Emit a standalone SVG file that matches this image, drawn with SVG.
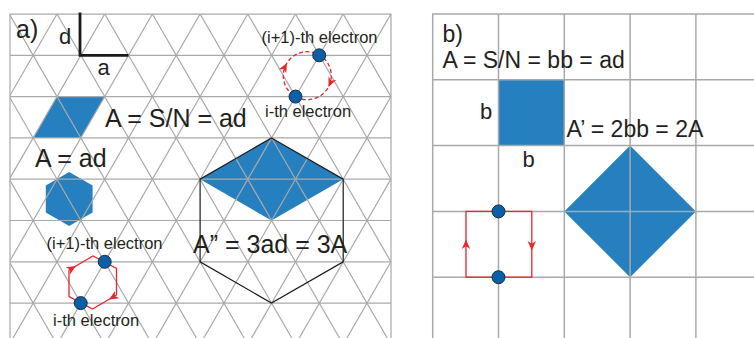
<svg xmlns="http://www.w3.org/2000/svg" width="754" height="338" viewBox="0 0 754 338">
<defs>
  <style>
    .grid{stroke:#a9a9a9;stroke-width:1.2;fill:none}
    .grid2{stroke:#a9a9a9;stroke-width:1.5;fill:none}
    .blue{fill:#2680bf;stroke:none}
    .txt{font-family:"Liberation Sans",Arial,sans-serif;fill:#231f20}
    .big{font-size:25px}
    .mid{font-size:23px}
    .sm{font-size:16.5px}
    .loop{fill:none;stroke:#e8242c;stroke-width:1.3}
    .dot{fill:#0b5fa5;stroke:#1b2f45;stroke-width:1}
  </style>
  <clipPath id="clipA"><rect x="10" y="14" width="381" height="330"/></clipPath>
  <path id="ah" d="M0,0 L-9.5,-4.2 L-6.8,0 L-9.5,4.2 Z" fill="#e8242c"/>
</defs>
<rect width="754" height="338" fill="#ffffff"/>

<!-- Panel a -->
<g id="panel-a">
  <g id="shapes-a">
    <polygon class="blue" points="57,96.6 104.7,96.6 80.7,137.9 33,137.9"/>
    <polygon class="blue" points="69.2,172 92.6,185.5 92.6,212.5 69.2,226 45.8,212.5 45.8,185.5"/>
    <polygon class="blue" points="271.5,137.9 343.2,179.2 271.5,220.5 200.1,179.2"/>
  </g>
  <g id="lattice-a" class="grid" clip-path="url(#clipA)">
    <path d="M10,14H391M10,55.3H391M10,96.6H391M10,137.9H391M10,179.2H391M10,220.5H391M10,261.8H391M10,303.1H391"/>
    <path d="M57,14l-194,336M104.7,14l-194,336M152.4,14l-194,336M200.1,14l-194,336M247.8,14l-194,336M295.5,14l-194,336M343.2,14l-194,336M390.9,14l-194,336M438.6,14l-194,336M486.3,14l-194,336M534,14l-194,336"/>
    <path d="M-133.8,14l194,336M-86.1,14l194,336M-38.4,14l194,336M9.3,14l194,336M57,14l194,336M104.7,14l194,336M152.4,14l194,336M200.1,14l194,336M247.8,14l194,336M295.5,14l194,336M343.2,14l194,336"/>
  </g>
  <path id="border-a" class="grid" d="M10,344V14H391V344"/>
  <polygon id="hexagon-big" points="271.5,137.9 343.2,179.2 343.2,261.8 271.5,303.1 200.1,261.8 200.1,179.2" fill="none" stroke="#1a1a1a" stroke-width="1.2"/>
  <path id="axes-da" d="M80,12.5V55.3H128.5" fill="none" stroke="#1a1a1a" stroke-width="2.8"/>
  <text class="txt big" x="16" y="38">a)</text>
  <text class="txt" font-size="22" x="59" y="44">d</text>
  <text class="txt" font-size="22" x="97.5" y="75">a</text>
  <text class="txt big" x="105" y="127">A = S/N = ad</text>
  <text class="txt big" x="35" y="166.5">A = ad</text>
  <text class="txt big" x="193" y="253.3">A” = 3ad = 3A</text>
  <text class="txt sm" x="261.5" y="43">(i+1)-th electron</text>
  <text class="txt sm" x="265" y="117">i-th electron</text>
  <text class="txt sm" x="46.5" y="249">(i+1)-th electron</text>
  <text class="txt sm" x="53" y="326">i-th electron</text>
</g>

<!-- Panel b -->
<g id="panel-b">
  <rect class="blue" x="498.5" y="79.8" width="65.8" height="65.8"/>
  <polygon class="blue" points="630.1,145.6 695.9,211.4 630.1,277.2 564.3,211.4"/>
  <g id="grid-b" class="grid2">
    <path d="M432.7,345V14H760"/>
    <path d="M498.5,14V345M564.3,14V345M630.1,14V345M695.9,14V345"/>
    <path d="M432.7,79.8H760M432.7,145.6H760M432.7,211.4H760M432.7,277.2H760"/>
  </g>
  <text class="txt mid" x="442.5" y="41.5">b)</text>
  <text class="txt mid" x="442.5" y="68.3">A = S/N = bb = ad</text>
  <text class="txt" font-size="22" x="480" y="119">b</text>
  <text class="txt" font-size="22" x="522.5" y="167">b</text>
  <text class="txt mid" x="566.5" y="136.7">A’ = 2bb = 2A</text>
</g>

<!-- Loops (connectors) -->
<g id="connectors">
  <circle class="loop" cx="307.3" cy="75.7" r="24" stroke-dasharray="4 2.5"/>
  <use href="#ah" transform="translate(286.9,63) rotate(-62.5)"/>
  <use href="#ah" transform="translate(328.5,87) rotate(113.9)"/>
  <polygon class="loop" points="69,270 93,256 116.5,268.5 116.5,295 92.5,309 69,296.5"/>
  <use href="#ah" transform="translate(76,266) rotate(-30.3)"/>
  <use href="#ah" transform="translate(109,299.4) rotate(149.7)"/>
  <rect class="loop" x="466" y="211.4" width="65.8" height="65.8"/>
  <use href="#ah" transform="translate(466,239.5) rotate(-90)"/>
  <use href="#ah" transform="translate(531.8,250.5) rotate(90)"/>
</g>

<!-- Electrons -->
<g id="electrons">
  <circle id="e1a" class="dot" cx="319.2" cy="55.3" r="6.5"/>
  <circle id="e2a" class="dot" cx="295.5" cy="96.6" r="6.5"/>
  <circle id="e3a" class="dot" cx="104.7" cy="261.8" r="6.5"/>
  <circle id="e4a" class="dot" cx="80.7" cy="303.1" r="6.5"/>
  <circle id="e1b" class="dot" cx="498.5" cy="211.4" r="6.5"/>
  <circle id="e2b" class="dot" cx="498.5" cy="277.2" r="6.5"/>
</g>
</svg>
